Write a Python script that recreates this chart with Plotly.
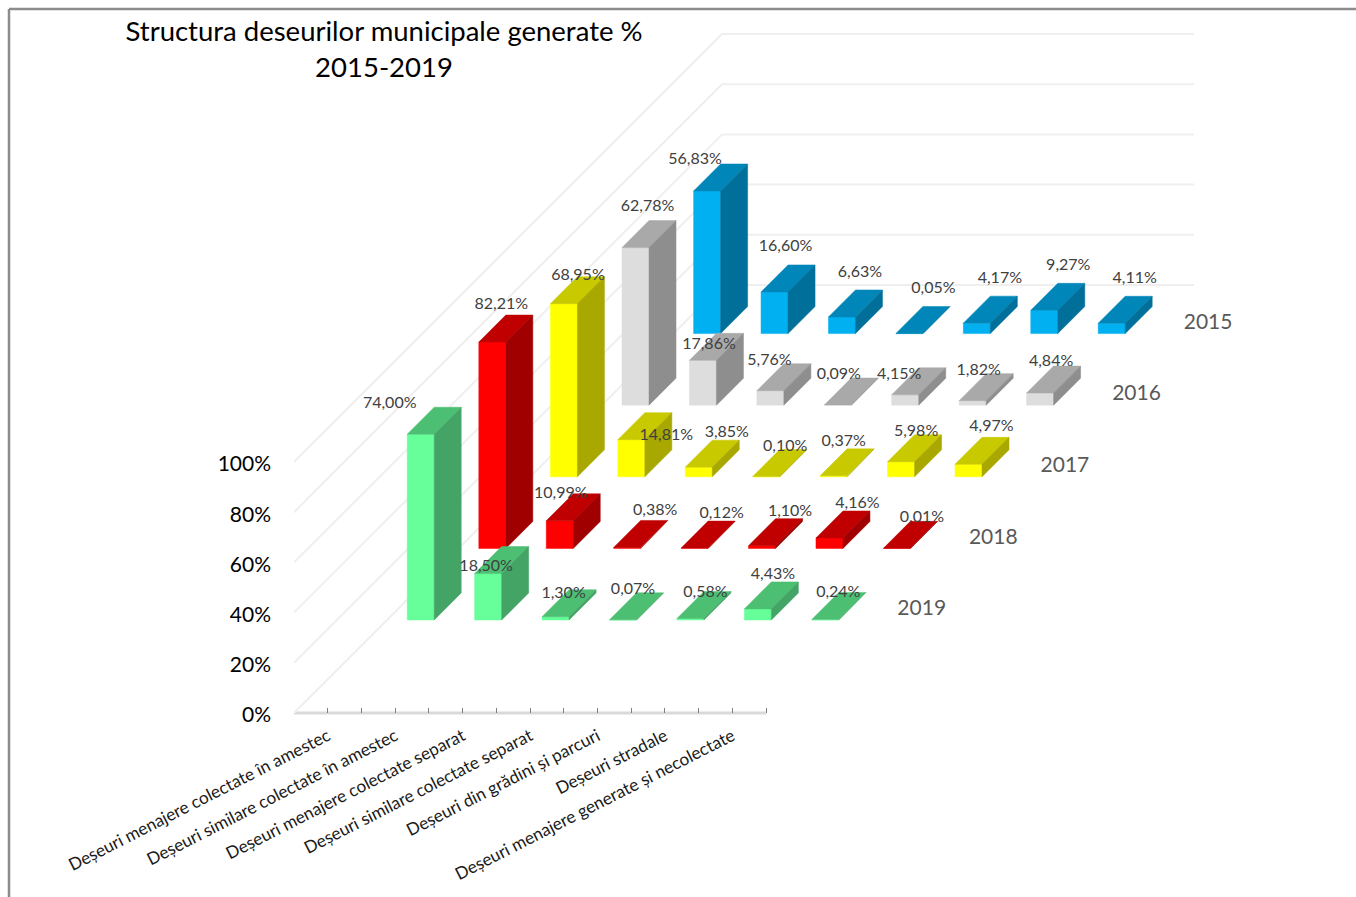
import plotly.graph_objects as go

categories = [
    "Deșeuri menajere colectate în amestec",
    "Deșeuri similare colectate în amestec",
    "Deșeuri menajere colectate separat",
    "Deșeuri similare colectate separat",
    "Deșeuri din grădini și parcuri",
    "Deșeuri stradale",
    "Deșeuri menajere generate și necolectate",
]

# front series first
years = ["2019", "2018", "2017", "2016", "2015"]
v2019 = [74.00, 18.50, 1.30, 0.07, 0.58, 4.43, 0.24]
v2018 = [82.21, 10.99, 0.38, 0.12, 1.10, 4.16, 0.01]
v2017 = [68.95, 14.81, 3.85, 0.10, 0.37, 5.98, 4.97]
v2016 = [62.78, 17.86, 5.76, 0.09, 4.15, 1.82, 4.84]
v2015 = [56.83, 16.60, 6.63, 0.05, 4.17, 9.27, 4.11]
values = [v2019, v2018, v2017, v2016, v2015]

y_ticks = [0, 20, 40, 60, 80, 100]

# front, top, side
colors = [
    ("#66FF99", "#4CBF73", "#43A466"),
    ("#FF0000", "#C00000", "#A00000"),
    ("#FFFF00", "#C9C900", "#A8A800"),
    ("#DDDDDD", "#A9A9A9", "#8E8E8E"),
    ("#00B0F0", "#0086B8", "#006F9A"),
]

# hand placement of the data labels, in pixels from the top of the bar
nudge = [
    [(-31, -30), (-2, -7), (8, -23), (10, -30), (15, -26), (15, -34), (13, -26)],
    [(9, -37), (1, -27), (28, -36), (27, -34), (28, -34), (28, -34), (25, -30)],
    [(14, -28), (35, -4), (28, -34), (19, -30), (10, -34), (15, -30), (23, -37)],
    [(12, -41), (6, -15), (-1, -30), (1, -30), (-6, -20), (6, -30), (11, -31)],
    [(-12, -31), (11, -45), (18, -44), (24, -44), (23, -44), (24, -44), (23, -44)],
]

W, H = 1356, 897
LEFT, BASE = 294, 713
PX_CAT = 67.43
PX_PCT = 2.51
STEP = 71.6      # depth between two series, px
FIRST = 93       # depth of the front series, px
BAR_W = 27 / PX_CAT
BAR_D = 27       # px
WALL = 428       # depth of the side wall, px
FONT = "Lato"


def project(cat, pct, depth):
    # oblique view: depth in px moves up and right at 45 degrees
    return cat + depth / PX_CAT, pct + depth / PX_PCT


def poly(points):
    xs, ys = [], []
    for p in points:
        x, y = project(*p)
        xs.append(x)
        ys.append(y)
    return xs + [xs[0], None], ys + [ys[0], None]


fig = go.Figure()

# side wall and back wall gridlines
for t in y_ticks:
    x, y = project(0, t, 0)
    x2, y2 = project(0, t, WALL)
    x3, y3 = project(len(categories), t, WALL)
    fig.add_trace(go.Scatter(x=[x, x2, x3], y=[y, y2, y3], mode="lines",
                             line=dict(color="#EFEFEF", width=2),
                             hoverinfo="skip", showlegend=False))

# bars, from the back series to the front one
for s in reversed(range(len(years))):
    d0 = FIRST + s * STEP
    d1 = d0 + BAR_D
    faces = [[], [], []]
    for c, v in enumerate(values[s]):
        a = c + 0.5 - BAR_W / 2
        b = c + 0.5 + BAR_W / 2
        faces[0].append([(a, 0, d0), (b, 0, d0), (b, v, d0), (a, v, d0)])
        faces[1].append([(a, v, d0), (b, v, d0), (b, v, d1), (a, v, d1)])
        faces[2].append([(b, 0, d0), (b, 0, d1), (b, v, d1), (b, v, d0)])
    for face, color in zip(faces, colors[s]):
        xs, ys = [], []
        for quad in face:
            qx, qy = poly(quad)
            xs += qx
            ys += qy
        fig.add_trace(go.Scatter(x=xs, y=ys, mode="lines", fill="toself",
                                 fillcolor=color, line=dict(width=0.5, color=color),
                                 hoverinfo="skip", showlegend=False))

# data labels
for s in range(len(years)):
    d0 = FIRST + s * STEP
    xs, ys, texts = [], [], []
    for c, v in enumerate(values[s]):
        x, y = project(c + 0.5, v, d0)
        xs.append(x + nudge[s][c][0] / PX_CAT)
        ys.append(y - nudge[s][c][1] / PX_PCT)
        texts.append(f"{v:.2f}%".replace(".", ","))
    fig.add_trace(go.Scatter(x=xs, y=ys, text=texts, mode="text",
                             textposition="middle center",
                             textfont=dict(family=FONT, size=16, color="#404040"),
                             hoverinfo="skip", showlegend=False))

# series names along the depth axis
xs, ys = [], []
for s in range(len(years)):
    x, y = project(len(categories) + 0.93, 0, FIRST + s * STEP)
    xs.append(x)
    ys.append(y + 10 / PX_PCT)
fig.add_trace(go.Scatter(x=xs, y=ys, text=years, mode="text",
                         textposition="middle center",
                         textfont=dict(family=FONT, size=21, color="#595959"),
                         hoverinfo="skip", showlegend=False))

plot_w = W - LEFT
plot_h = BASE


def px(x):
    return (x - LEFT) / plot_w


def py(y):
    return (BASE - y) / plot_h


frame = dict(type="line", xref="paper", yref="paper",
             line=dict(color="#8C8C8C", width=2.5))
fig.add_shape(x0=px(9), x1=px(W), y0=py(9), y1=py(9), **frame)
fig.add_shape(x0=px(9), x1=px(9), y0=py(9), y1=py(H), **frame)

# category axis line, only as long as the categories
fig.add_shape(type="line", xref="paper", yref="paper", layer="below",
              x0=0, x1=len(categories) * PX_CAT / plot_w, y0=0, y1=0,
              line=dict(color="#D9D9D9", width=3))

fig.update_layout(
    width=W,
    height=H,
    paper_bgcolor="white",
    plot_bgcolor="white",
    margin=dict(l=LEFT, r=0, t=0, b=H - BASE, autoexpand=False),
    showlegend=False,
    title=dict(text="Structura deseurilor municipale generate %<br>2015-2019",
               x=384 / W, xref="container", xanchor="center",
               y=1 - 41 / H, yref="container", yanchor="top",
               font=dict(family=FONT, size=27.5, color="black")),
    xaxis=dict(range=[0, plot_w / PX_CAT], showgrid=False, zeroline=False,
               tickmode="array", tickvals=[c + 0.5 for c in range(len(categories))],
               ticktext=categories, tickangle=-27, ticks="inside", ticklen=5,
               tickcolor="#7F7F7F", tickwidth=1, ticklabelstandoff=9,
               tickfont=dict(family=FONT, size=17.2, color="#1A1A1A"),
               showline=False,
               minor=dict(tickmode="array", tickvals=list(range(len(categories) + 1)),
                          ticks="inside", ticklen=5, tickcolor="#7F7F7F", tickwidth=1)),
    yaxis=dict(range=[0, plot_h / PX_PCT], showgrid=False, zeroline=False,
               tickmode="array", tickvals=y_ticks,
               ticktext=[f"{t}%" for t in y_ticks], ticks="", ticklabelstandoff=22,
               ticklabelshift=2,
               tickfont=dict(family=FONT, size=21, color="black"),
               showline=False),
)

# drop the browser's default page margin so the figure sits at the corner
fig.write_html("out.html", config=dict(displayModeBar=False),
               post_script="document.body.style.margin='0';")
